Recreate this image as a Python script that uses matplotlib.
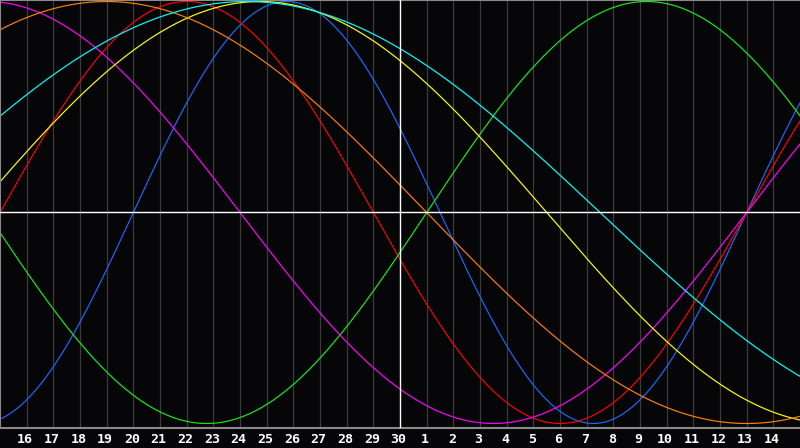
import numpy as np
import matplotlib
matplotlib.use("Agg")
import matplotlib.pyplot as plt

# --- data ---
cycle_periods = [23, 28, 33, 38, 43, 48, 53]
cycle_colors = ["#1a6aff", "#ff0000", "#11ee11", "#ff00ff", "#ffff00", "#ff8000", "#00ffff"]
days_since_birth_at_left = 36680          # day count at the left edge of the chart
day_labels = [str(d) for d in range(16, 31)] + [str(d) for d in range(1, 15)]
today_index = 15                          # position of the "30" label (white line)
n_days = 30

bg = "#060609"
fig = plt.figure(figsize=(8.0, 4.48), dpi=100, facecolor=bg)
ax = fig.add_axes([0, 20 / 448, 1, 428 / 448], facecolor=bg)

ax.set_xlim(0, n_days)
ax.set_ylim(-(428 - 212.5) / 211, 212.5 / 211)

# grid lines
for k in range(1, n_days):
    if k == today_index:
        continue
    ax.axvline(k, color="#3c3c3c", lw=0.9, zorder=1)

ax.axvline(today_index, color="white", lw=1.0, zorder=3)
ax.axhline(0, color="white", lw=1.0, zorder=3)

t = np.linspace(0, n_days, 1500)
for p, c in zip(cycle_periods, cycle_colors):
    y = np.sin(2 * np.pi * (days_since_birth_at_left + t) / p)
    ax.plot(t, y, color=c, lw=0.85, zorder=2)

for s in ax.spines.values():
    s.set_visible(False)
for side in ("top", "left", "bottom"):
    ax.spines[side].set_visible(True)
    ax.spines[side].set_color("#8a8a8a")
    ax.spines[side].set_linewidth(1.5)
ax.set_xticks([])
ax.set_yticks([])

# day labels
for k, lab in enumerate(day_labels, start=1):
    fig.text(k / n_days - 1.5 / 800, 1 - 439 / 448, lab, color="white",
             fontsize=9.5, fontweight="bold", family="DejaVu Sans Mono",
             ha="center", va="center")

fig.savefig("out.png", dpi=100, facecolor=bg)
